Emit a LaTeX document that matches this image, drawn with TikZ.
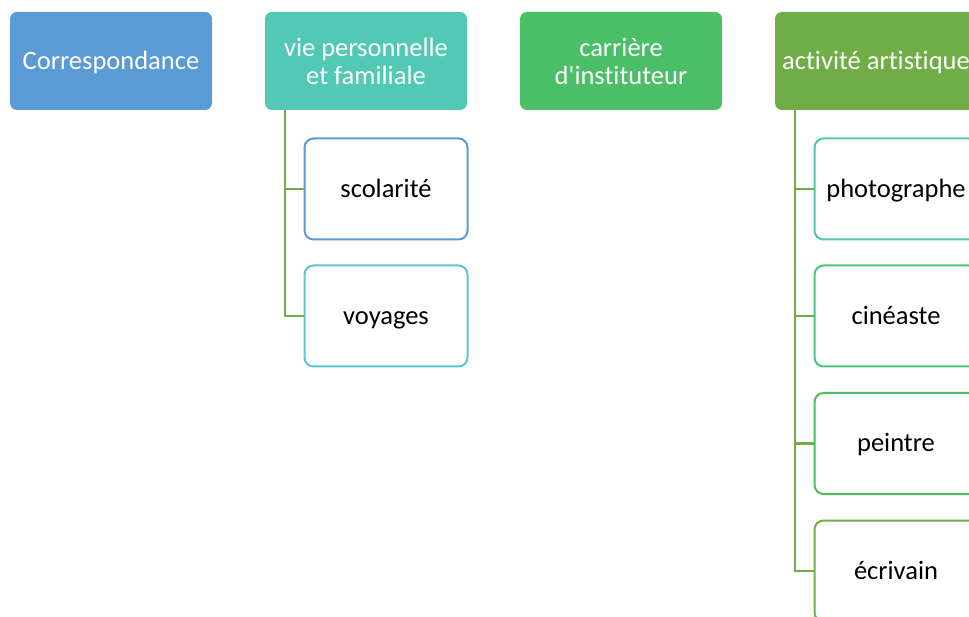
\documentclass[tikz,border=0pt]{standalone}
\usepackage{fontspec}
\setmainfont{Carlito}[Ligatures=TeXOff, RawFeature={-liga}]
\definecolor{cA}{HTML}{5B9BD5}
\definecolor{cB}{HTML}{52C9B5}
\definecolor{cC}{HTML}{4ABF68}
\definecolor{cD}{HTML}{70AD47}
\definecolor{bCyan}{HTML}{5BC5D4}
\definecolor{bTeal}{HTML}{4FC9AF}
\definecolor{bMint}{HTML}{4CC57F}
\definecolor{bGreen}{HTML}{4CBF5C}
\definecolor{bOlive}{HTML}{6DB14C}
\tikzset{
  head/.style={rectangle, rounded corners=7pt, fill=#1, draw=none, text=white,
    minimum width=202pt, minimum height=98pt, inner sep=2pt, align=center,
    font=\fontsize{26.5}{28}\selectfont},
  child/.style={rectangle, rounded corners=9pt, fill=white, draw=#1, line width=2pt,
    minimum width=163pt, minimum height=101pt, inner sep=2pt, align=center,
    font=\fontsize{26.5}{28}\selectfont, text=black},
  oneline/.style={text height=21.5pt, text depth=5pt},
  link/.style={draw=cD, line width=2.2pt}
}
\begin{document}
\begin{tikzpicture}[x=1pt,y=-1pt]
\useasboundingbox (0,0) rectangle (969,617);
\clip (0,0) rectangle (969,617);
\node[head=cA, oneline] (corr) at (111,61) {Correspondance};
\node[head=cB] (vie) at (366,61) {vie personnelle\\et familiale};
\node[head=cC] (carr) at (621,61) {carrière\\d'instituteur};
\node[head=cD, oneline] (art) at (876,61) {activité artistique};
\node[child=cA, oneline] (scol) at (386,189) {scolarité};
\node[child=bCyan, oneline] (voy) at (386,316) {voyages};
\node[child=bTeal, oneline] (photo) at (896,189) {photographe};
\node[child=bMint, oneline] (cine) at (896,316) {cinéaste};
\node[child=bGreen, oneline] (peint) at (896,443.5) {peintre};
\node[child=bOlive, oneline] (ecr) at (896,571) {écrivain};
\draw[link] ([xshift=-81pt]vie.south) |- (scol.west);
\draw[link] ([xshift=-81pt]vie.south) |- (voy.west);
\draw[link] ([xshift=-81pt]art.south) |- (photo.west);
\draw[link] ([xshift=-81pt]art.south) |- (cine.west);
\draw[link] ([xshift=-81pt]art.south) |- (peint.west);
\draw[link] ([xshift=-81pt]art.south) |- (ecr.west);
\end{tikzpicture}
\end{document}
